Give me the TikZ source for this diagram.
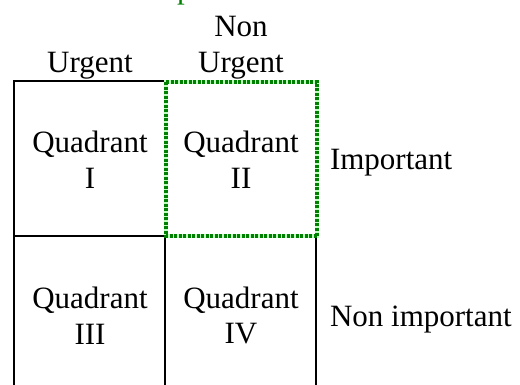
\documentclass[tikz,border=0pt]{standalone}
\usepackage{fontspec}
\setmainfont{Liberation Serif}
\begin{document}
\begin{tikzpicture}[x=1pt,y=-1pt,
  every node/.style={inner sep=0pt, outer sep=0pt, font=\fontsize{31}{35.6}\selectfont},
  label/.style={align=center},
  gridline/.style={draw=black, line width=1.6pt},
  focusbase/.style={draw=green!25, line width=4pt},
  focus/.style={draw=green!50!black, line width=4pt, dash pattern=on 3pt off 1.5pt},
  note/.style={text=green!50!black}]
\useasboundingbox (0,0) rectangle (520,385);
\clip (0,0) rectangle (520,385);

% corners of the matrix
\coordinate (tl) at (14,81);
\coordinate (tm) at (166,81);
\coordinate (ml) at (14,236);
\coordinate (mm) at (166,236);
\coordinate (bl) at (14,390);
\coordinate (bm) at (165,390);
\coordinate (mr) at (316,238);
\coordinate (br) at (316,390);
\coordinate (qa) at (166,82);
\coordinate (qb) at (317,82);
\coordinate (qc) at (317,236.5);
\coordinate (qd) at (166,236.5);

% black grid
\draw[gridline] (bl) -- (tl) -- (tm);
\draw[gridline] (ml) -- (mm);
\draw[gridline] (165,236) -- (bm);
\draw[gridline] (mr) -- (br);

% highlighted quadrant: pale band under dark dots
\draw[focusbase] (qa) -- (qb) -- (qc) -- (qd) -- cycle;
\draw[focus] (qa) -- (qb) -- (qc) -- (qd) -- cycle;

% green caption above the frame
\node[note, anchor=base west] (cap) at (177,-1.5) {p};

% column headings
\node[anchor=base] (urg) at (90,72.7) {Urgent};
\node[label] (nurg) at (241,47.5) {Non\\Urgent};

% quadrants
\node[label] (q1) at (90,159.5) {Quadrant\\I};
\node[label] (q2) at (241,159.5) {Quadrant\\II};
\node[label] (q3) at (90,315.5) {Quadrant\\III};
\node[label] (q4) at (241,315.5) {Quadrant\\IV};

% row headings
\node[anchor=base west] (imp) at (330,170) {Important};
\node[anchor=base west] (nimp) at (330,326.5) {Non important};
\end{tikzpicture}
\end{document}
